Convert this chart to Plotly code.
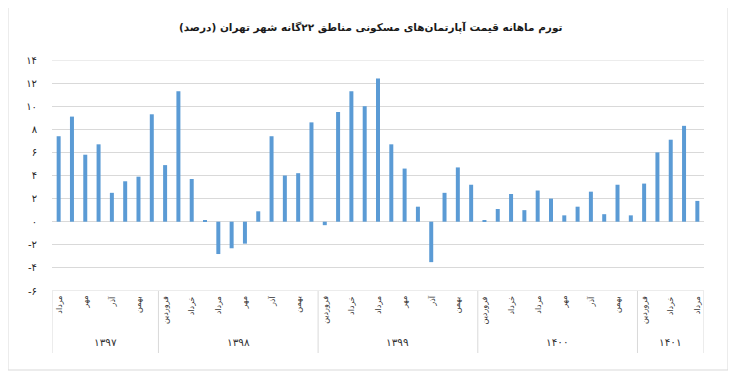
import plotly.graph_objects as go

# ---------------- data ----------------
title_text = "تورم ماهانه قیمت آپارتمان‌های مسکونی مناطق ۲۲گانه شهر تهران (درصد)"
month_names = ["فروردین", "اردیبهشت", "خرداد", "تیر", "مرداد", "شهریور",
               "مهر", "آبان", "آذر", "دی", "بهمن", "اسفند"]
year_labels = ["۱۳۹۷", "۱۳۹۸", "۱۳۹۹", "۱۴۰۰", "۱۴۰۱"]
year_first_month = [5, 1, 1, 1, 1]      # 1-based month where each year's data starts
year_month_count = [8, 12, 12, 12, 5]
values = [
    # 1397 (مرداد..اسفند)
    7.4, 9.1, 5.8, 6.7, 2.5, 3.5, 3.9, 9.3,
    # 1398
    4.9, 11.3, 3.7, 0.1, -2.8, -2.3, -1.9, 0.9, 7.4, 4.0, 4.2, 8.6,
    # 1399
    -0.3, 9.5, 11.3, 10.0, 12.4, 6.7, 4.6, 1.3, -3.5, 2.5, 4.7, 3.2,
    # 1400
    0.1, 1.1, 2.4, 1.0, 2.7, 2.0, 0.55, 1.3, 2.6, 0.65, 3.2, 0.55,
    # 1401
    3.3, 6.0, 7.1, 8.3, 1.8,
]
y_tickvals = [-6, -4, -2, 0, 2, 4, 6, 8, 10, 12, 14]
y_ticktext = ["-۶", "-۴", "-۲", "۰", "۲", "۴", "۶", "۸", "۱۰", "۱۲", "۱۴"]

# ---------------- build categories ----------------
bar_year, bar_month = [], []
for yl, m0, cnt in zip(year_labels, year_first_month, year_month_count):
    for k in range(cnt):
        bar_year.append(yl)
        bar_month.append(m0 + k)
xs = list(range(len(values)))

# ---------------- layout geometry (page pixels; page body has 8px margin) ----------------
OFF = 8
W, H = 736 - OFF, 381 - OFF
PL, PR, PT, PB = 52, 704, 60, 291   # plot area in page pixels
def px_x(p):
    return (p - PL) / (PR - PL)
def px_y(p):
    return (PB - p) / (PB - PT)

FONT = "DejaVu Sans"
TXT = "#333333"
GRID = "#d9d9d9"

fig = go.Figure()
fig.add_trace(go.Bar(
    x=xs, y=values, width=0.3,
    marker=dict(color="#5b9bd5", line=dict(width=0)),
    hoverinfo="y",
))

annotations = []
shapes = []

# month labels (every odd month), rotated
for i, (yl, m) in enumerate(zip(bar_year, bar_month)):
    if m % 2 == 1:
        annotations.append(dict(
            x=i, y=px_y(294), xref="x", yref="paper",
            text=month_names[m - 1], showarrow=False, textangle=-90,
            xanchor="center", yanchor="top",
            font=dict(family=FONT, size=8, color=TXT),
        ))

# year labels and separators
start = 0
bounds = [-0.5]
for yl, cnt in zip(year_labels, year_month_count):
    center = start + (cnt - 1) / 2
    annotations.append(dict(
        x=center, y=px_y(342), xref="x", yref="paper",
        text=yl, showarrow=False, xanchor="center", yanchor="middle",
        font=dict(family=FONT, size=10.5, color=TXT),
    ))
    start += cnt
    bounds.append(start - 0.5)

for b in bounds:
    shapes.append(dict(type="line", xref="x", yref="paper",
                       x0=b, x1=b, y0=0, y1=px_y(353),
                       line=dict(color=GRID, width=1)))

# edge gridlines (-6 / table top and 14)
for yv in (y_tickvals[0], y_tickvals[-1]):
    shapes.append(dict(type="line", xref="paper", yref="y",
                       x0=0, x1=1, y0=yv, y1=yv,
                       line=dict(color=GRID, width=1)))

# outer chart border
shapes.append(dict(type="rect", xref="paper", yref="paper",
                   x0=px_x(8), x1=px_x(728), y0=px_y(370), y1=px_y(4),
                   line=dict(color=GRID, width=1), fillcolor="rgba(0,0,0,0)"))

# title
annotations.append(dict(
    x=px_x(370), y=px_y(27), xref="paper", yref="paper",
    text="<b>" + title_text + "</b>", showarrow=False,
    xanchor="center", yanchor="middle",
    font=dict(family=FONT, size=10.5, color="#1a1a1a"),
))

fig.update_layout(
    width=W, height=H,
    margin=dict(l=PL - OFF, r=W - (PR - OFF), t=PT - OFF, b=H - (PB - OFF), pad=0),
    paper_bgcolor="white", plot_bgcolor="white",
    showlegend=False,
    font=dict(family=FONT, color=TXT),
    xaxis=dict(range=[-0.5, len(values) - 0.5], showticklabels=False,
               showgrid=False, zeroline=False, showline=False, ticks=""),
    yaxis=dict(range=[-6, 14], tickvals=y_tickvals, ticktext=y_ticktext,
               showgrid=True, gridcolor=GRID, gridwidth=1,
               zeroline=False, showline=False, ticks="",
               ticklabelstandoff=14,
               tickfont=dict(family=FONT, size=10, color="#262626")),
    annotations=annotations,
    shapes=shapes,
    bargap=0.7,
)

fig.write_html("out.html")
